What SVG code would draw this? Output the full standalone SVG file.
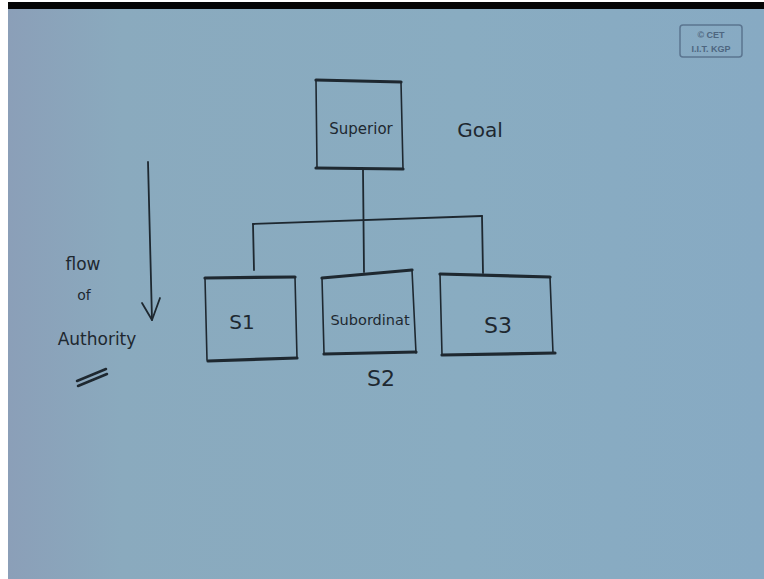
<svg xmlns="http://www.w3.org/2000/svg" width="764" height="579" viewBox="0 0 764 579">
  <defs>
    <linearGradient id="board" x1="0" y1="0" x2="1" y2="0">
      <stop offset="0" stop-color="#8b9fb8"/>
      <stop offset="0.15" stop-color="#8aaabe"/>
      <stop offset="0.6" stop-color="#89acc1"/>
      <stop offset="1" stop-color="#87aac3"/>
    </linearGradient>
    <style>
      .ink { fill: none; stroke: #1e2830; stroke-linecap: round; stroke-linejoin: round; }
      .side { stroke-width: 1.6; }
      .edge { stroke-width: 3.2; }
      .wire { stroke-width: 1.8; }
      .hand { font-family: "DejaVu Sans", "Liberation Sans", sans-serif; fill: #1e2830; }
      .logo { font-family: "Liberation Sans", Arial, sans-serif; fill: #4e6680; font-size: 9px; font-weight: bold; }
    </style>
  </defs>

  <!-- frame -->
  <rect x="0" y="0" width="764" height="579" fill="#ffffff"/>
  <rect x="8" y="9" width="756" height="570" fill="url(#board)"/>
  <rect x="8" y="2" width="756" height="7" fill="#050505"/>

  <!-- watermark -->
  <g id="logo">
    <rect x="680" y="25" width="62" height="32" rx="3" fill="none" stroke="#5b7590" stroke-width="1.5"/>
    <text class="logo" x="711" y="38" text-anchor="middle">© CET</text>
    <text class="logo" x="711" y="52" text-anchor="middle">I.I.T. KGP</text>
  </g>

  <!-- connectors -->
  <g id="connectors" class="ink wire">
    <path d="M363 170 L364 272"/>
    <path d="M253 224 L482 216"/>
    <path d="M253 224 L254 270"/>
    <path d="M482 216 L483 273"/>
  </g>

  <g id="superior">
    <path class="ink side" d="M316 81 L317 168 M401 82 L403 169"/>
    <path class="ink edge" d="M316 80 L401 82 M316 168 L403 169"/>
    <text class="hand" x="361" y="134" font-size="15" text-anchor="middle">Superior</text>
  </g>

  <g id="goal">
    <text class="hand" x="480" y="137" font-size="20" text-anchor="middle">Goal</text>
  </g>

  <g id="s1">
    <path class="ink side" d="M205 278 L207 360 M295 277 L297 358"/>
    <path class="ink edge" d="M205 278 L295 277 M208 361 L297 358"/>
    <text class="hand" x="242" y="329" font-size="20" text-anchor="middle">S1</text>
  </g>

  <g id="s2">
    <path class="ink side" d="M322 278 L324 353 M412 270 L416 353"/>
    <path class="ink edge" d="M322 278 L412 270 M324 354 L416 352"/>
    <text class="hand" x="370" y="325" font-size="14.5" text-anchor="middle">Subordinat</text>
    <text class="hand" x="381" y="386" font-size="22" text-anchor="middle">S2</text>
  </g>

  <g id="s3">
    <path class="ink side" d="M440 274 L442 355 M550 277 L553 353"/>
    <path class="ink edge" d="M440 274 L550 277 M442 355 L555 353"/>
    <text class="hand" x="498" y="333" font-size="22" text-anchor="middle">S3</text>
  </g>

  <!-- flow of authority -->
  <g id="authority-arrow" class="ink wire">
    <path d="M148 162 L152 320"/>
    <path d="M142 303 L152 320 L160 298"/>
  </g>
  <g id="authority-label">
    <text class="hand" x="83" y="270" font-size="17" text-anchor="middle">flow</text>
    <text class="hand" x="84" y="300" font-size="14" text-anchor="middle">of</text>
    <text class="hand" x="97" y="345" font-size="17" text-anchor="middle">Authority</text>
    <path class="ink" stroke-width="2.5" d="M77 381 L106 369 M78 386 L107 374"/>
  </g>
</svg>
